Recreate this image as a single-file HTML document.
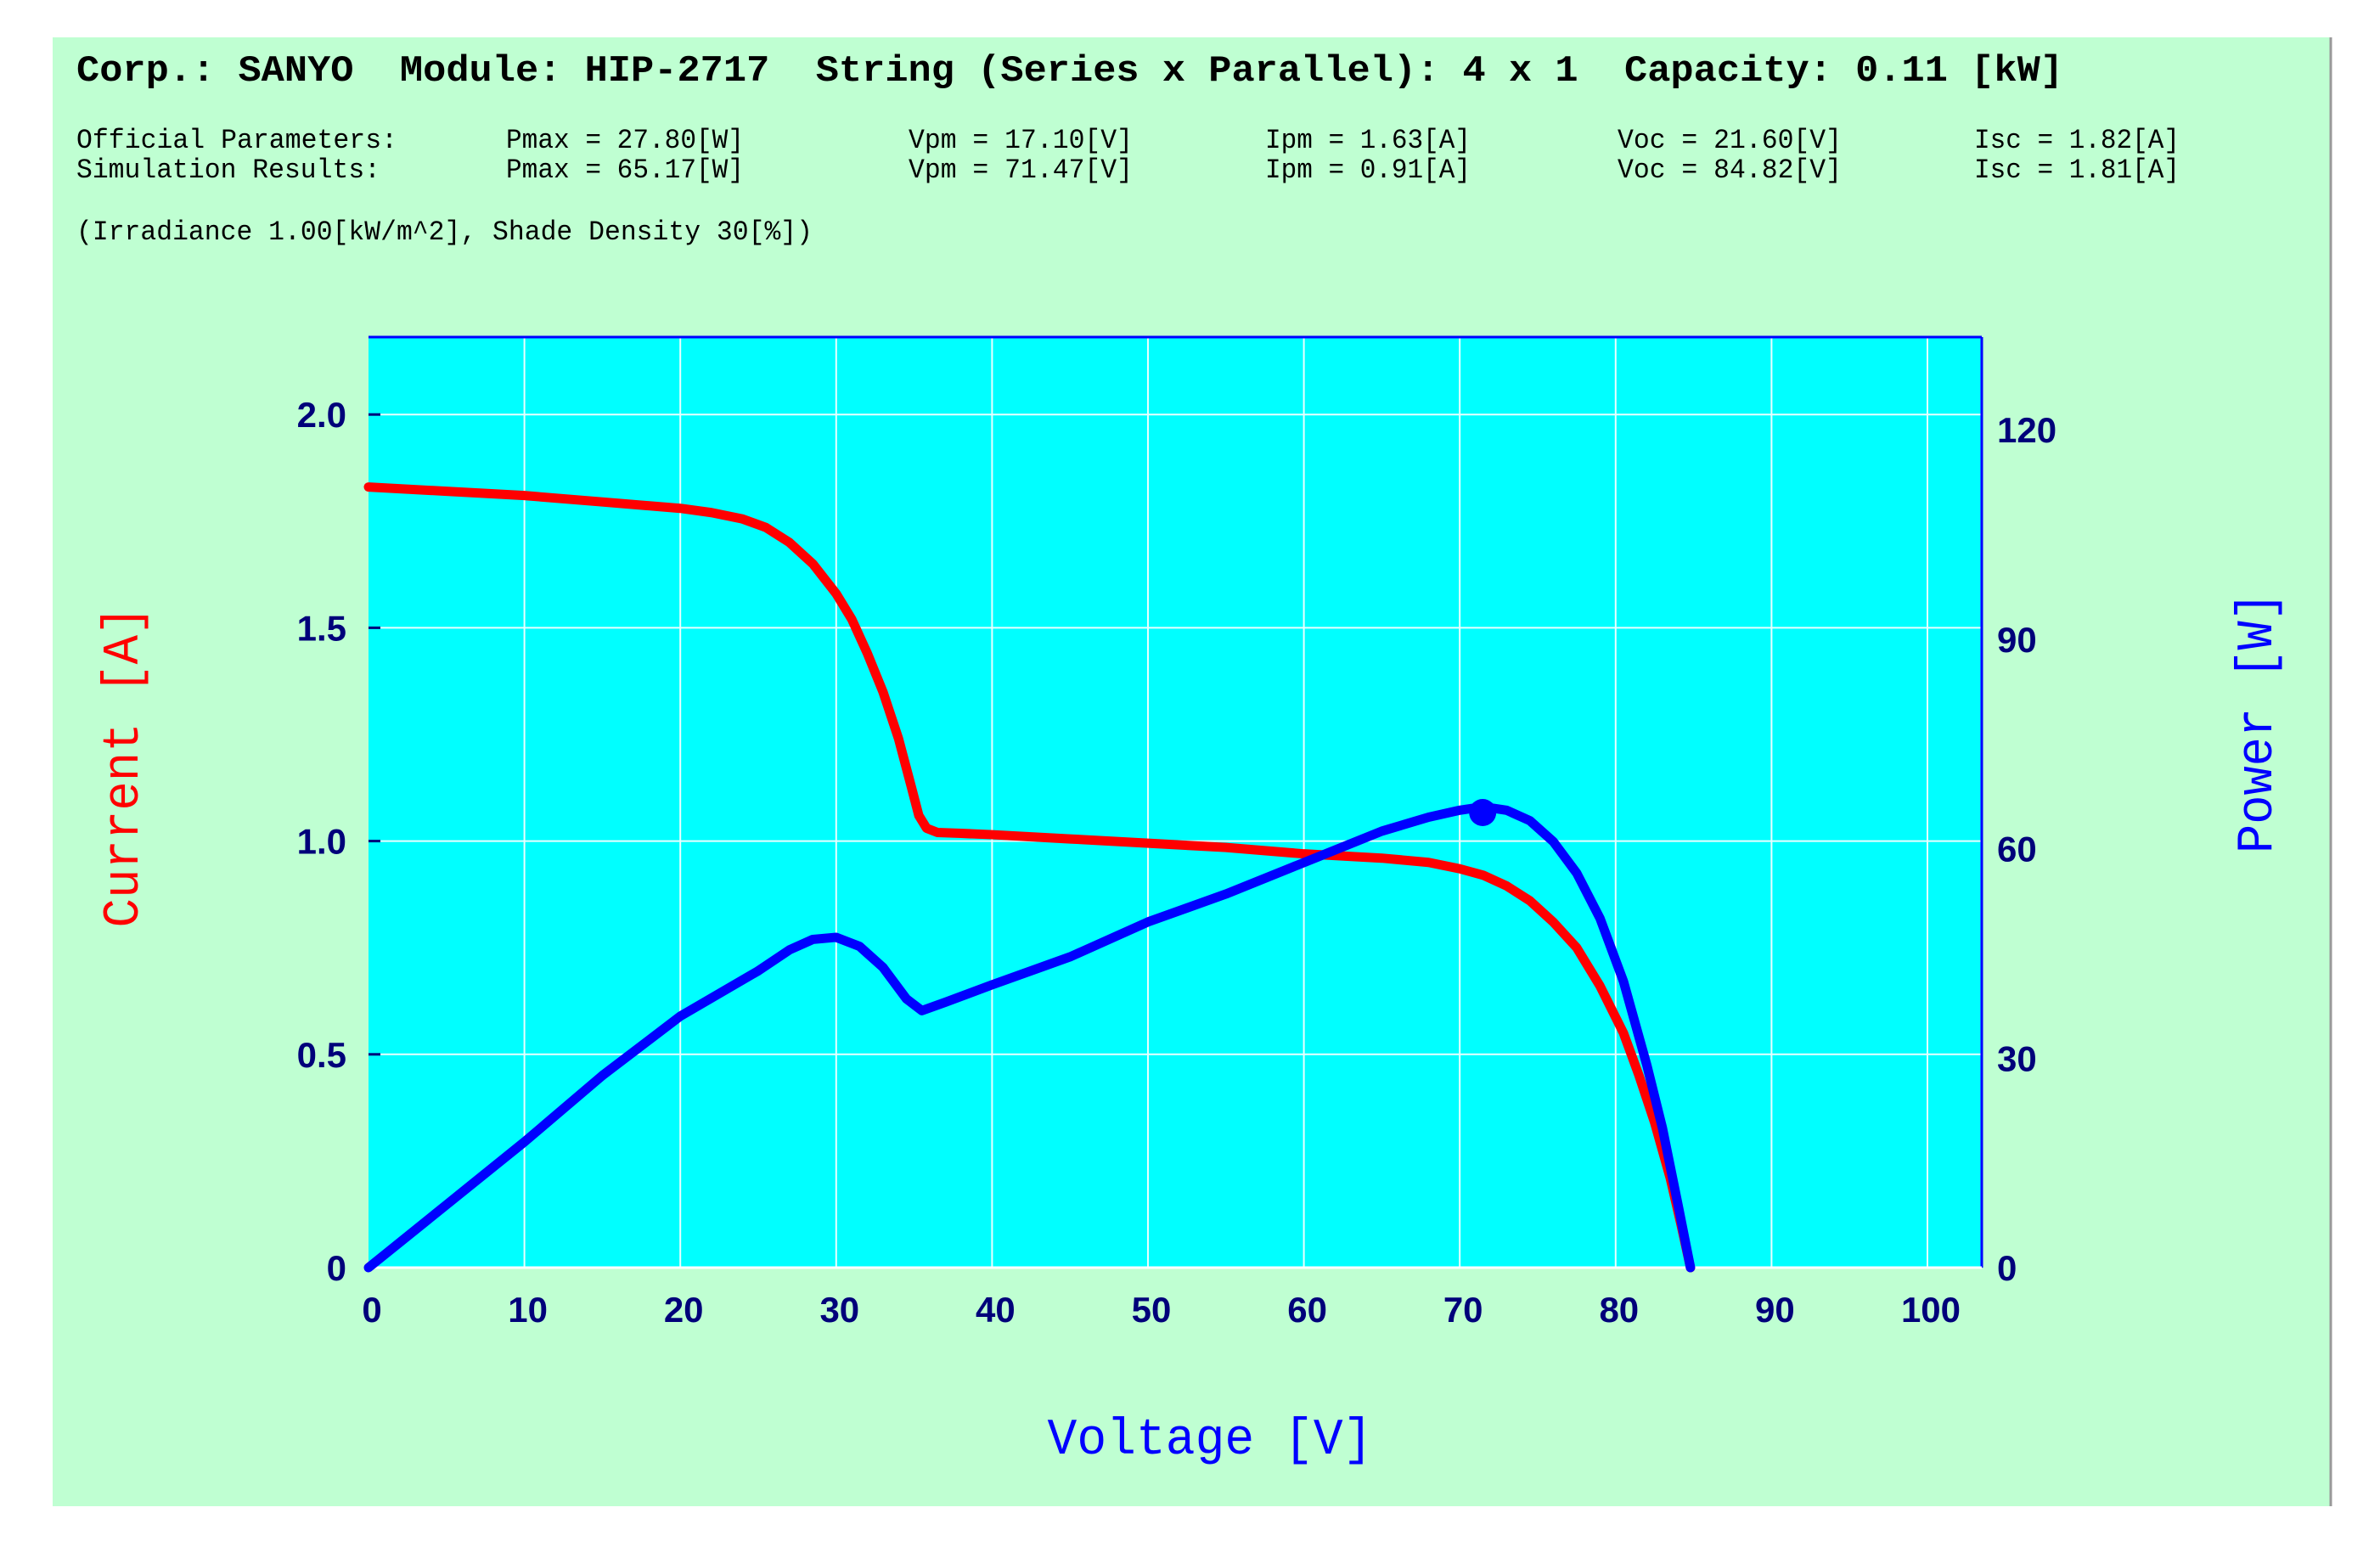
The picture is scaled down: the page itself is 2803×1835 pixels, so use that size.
<!DOCTYPE html>
<html><head><meta charset="utf-8"><style>
html,body{margin:0;padding:0;background:#fff;}
svg{display:block;}
.m{font-family:"Liberation Mono","DejaVu Sans Mono",monospace;white-space:pre;}
.t{font-family:"Liberation Sans",Arial,sans-serif;font-weight:bold;fill:#00007a;font-size:42px;}
</style></head><body>
<svg id="chart" width="2803" height="1835" viewBox="0 0 2803 1835" xmlns="http://www.w3.org/2000/svg">
<rect x="62" y="44" width="2683" height="1730" fill="#bfffd2"/>
<line x1="2745" y1="44" x2="2745" y2="1774" stroke="#999" stroke-width="3"/>
<text class="m" x="90" y="95" font-size="44" font-weight="bold" textLength="2340" lengthAdjust="spacingAndGlyphs" xml:space="preserve">Corp.: SANYO  Module: HIP-2717  String (Series x Parallel): 4 x 1  Capacity: 0.11 [kW]</text>
<g class="m" font-size="32">
<text x="90" y="174" textLength="378" lengthAdjust="spacingAndGlyphs">Official Parameters:</text>
<text x="90" y="209" textLength="358" lengthAdjust="spacingAndGlyphs">Simulation Results:</text>
<text x="596" y="174" textLength="280" lengthAdjust="spacingAndGlyphs">Pmax = 27.80[W]</text>
<text x="596" y="209" textLength="280" lengthAdjust="spacingAndGlyphs">Pmax = 65.17[W]</text>
<text x="1070" y="174" textLength="264" lengthAdjust="spacingAndGlyphs">Vpm = 17.10[V]</text>
<text x="1070" y="209" textLength="264" lengthAdjust="spacingAndGlyphs">Vpm = 71.47[V]</text>
<text x="1490" y="174" textLength="242" lengthAdjust="spacingAndGlyphs">Ipm = 1.63[A]</text>
<text x="1490" y="209" textLength="242" lengthAdjust="spacingAndGlyphs">Ipm = 0.91[A]</text>
<text x="1905" y="174" textLength="264" lengthAdjust="spacingAndGlyphs">Voc = 21.60[V]</text>
<text x="1905" y="209" textLength="264" lengthAdjust="spacingAndGlyphs">Voc = 84.82[V]</text>
<text x="2325" y="174" textLength="242" lengthAdjust="spacingAndGlyphs">Isc = 1.82[A]</text>
<text x="2325" y="209" textLength="242" lengthAdjust="spacingAndGlyphs">Isc = 1.81[A]</text>
<text x="90" y="282" textLength="867" lengthAdjust="spacingAndGlyphs">(Irradiance 1.00[kW/m^2], Shade Density 30[%])</text>
</g>
<g id="plot"></g>
<text x="1425" y="1712" text-anchor="middle" class="m" font-size="60" fill="#0000ff" textLength="383" lengthAdjust="spacingAndGlyphs">Voltage [V]</text>
<text transform="translate(162,903) rotate(-90)" text-anchor="middle" class="m" font-size="60" fill="#ff0000" textLength="379" lengthAdjust="spacingAndGlyphs">Current [A]</text>
<text transform="translate(2675,851) rotate(-90)" text-anchor="middle" class="m" font-size="60" fill="#0000ff" textLength="308" lengthAdjust="spacingAndGlyphs">Power [W]</text>
</svg>
<script>
const xTicks=[0,10,20,30,40,50,60,70,80,90,100];
const currentTicks=[0,0.5,1.0,1.5,2.0];
const currentTickLabels=["0","0.5","1.0","1.5","2.0"];
const powerTicks=[0,30,60,90,120];
const voltageI=[0,5,10,15,20,22,24,25.5,27,28.5,30,31,32,33,34,34.8,35.3,35.8,36.5,38,40,45,50,55,60,65,68,70,71.5,73,74.5,76,77.5,79,80.5,81.5,82.5,83.5,84.2,84.8];
const currentA=[1.83,1.82,1.81,1.795,1.78,1.77,1.755,1.735,1.70,1.65,1.58,1.52,1.44,1.35,1.24,1.13,1.06,1.03,1.02,1.018,1.015,1.005,0.995,0.985,0.97,0.96,0.95,0.935,0.92,0.895,0.86,0.81,0.75,0.66,0.55,0.45,0.34,0.21,0.10,0];
const voltageP=[0,5,10,15,20,25,27,28.5,30,31.5,33,34.5,35.5,37,40,45,50,55,60,65,68,70,71.5,73,74.5,76,77.5,79,80.5,82,83,84,84.8];
const powerW=[0,9,18,27.5,36,42.5,45.5,47,47.3,46,43,38.5,36.8,38,40.5,44.5,49.5,53.5,58,62.5,64.5,65.5,66,65.5,64,61,56.5,50,41,29,20,9,0];
const mpp=[71.47,65.17];

const L=434,R=2334,T=397,B=1493;
const xs=v=>L+v*18.36;
const yI=a=>B-a*502.4;
const yP=w=>B-w*8.225;
const NS="http://www.w3.org/2000/svg";
const g=document.getElementById('plot');
function mk(tag,attrs){const e=document.createElementNS(NS,tag);for(const k in attrs)e.setAttribute(k,attrs[k]);g.appendChild(e);return e;}
let bg=mk('rect',{x:L,y:T,width:R-L,height:B-T,fill:'#00ffff'});


xTicks.forEach((v,i)=>{
 if(v>0){const gl=mk('line',{x1:xs(v),y1:T,x2:xs(v),y2:B,stroke:'#e8ffff','stroke-width':2});
 
 }
 const t=mk('text',{x:xs(v)+4,y:1557,'text-anchor':'middle',class:'t'});t.textContent=v;
 
 
});
currentTicks.forEach((a,i)=>{
 if(a>0){const gl=mk('line',{x1:L,y1:yI(a),x2:R,y2:yI(a),stroke:'#e8ffff','stroke-width':2});
 
 }
 mk('line',{x1:L,y1:yI(a),x2:L+14,y2:yI(a),stroke:'#00007a','stroke-width':3});
 const t=mk('text',{x:408,y:yI(a)+15,'text-anchor':'end',class:'t'});t.textContent=currentTickLabels[i];
 
 
});
powerTicks.forEach(w=>{
 const t=mk('text',{x:2352,y:yP(w)+15,class:'t'});t.textContent=w;
 
 
});
mk('line',{x1:L,y1:T,x2:R,y2:T,stroke:'#0000ff','stroke-width':3});
mk('line',{x1:R,y1:T,x2:R,y2:B,stroke:'#0000ff','stroke-width':3});
mk('line',{x1:L,y1:B,x2:R,y2:B,stroke:'#ffffff','stroke-width':3});
let pi=mk('polyline',{points:voltageI.map((v,i)=>xs(v)+','+yI(currentA[i])).join(' '),fill:'none',stroke:'#ff0000','stroke-width':11,'stroke-linejoin':'round','stroke-linecap':'round'});


let pp=mk('polyline',{points:voltageP.map((v,i)=>xs(v)+','+yP(powerW[i])).join(' '),fill:'none',stroke:'#0000ff','stroke-width':11,'stroke-linejoin':'round','stroke-linecap':'round'});


let c=mk('circle',{cx:xs(mpp[0]),cy:yP(mpp[1]),r:16,fill:'#0000ff'});


</script>
</body></html>
